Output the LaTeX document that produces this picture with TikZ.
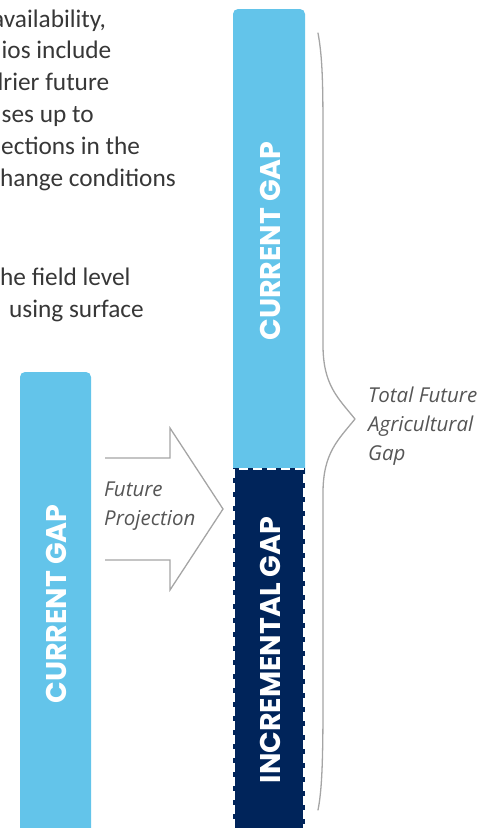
\documentclass[tikz,border=0pt]{standalone}
\usepackage{fontspec}
\setmainfont{Carlito}
\newfontfamily\barfont{Poppins}
\newfontfamily\notefont{Open Sans}
\definecolor{gapblue}{RGB}{99,196,234}
\definecolor{gapnavy}{RGB}{0,36,90}
\definecolor{linegray}{RGB}{165,165,165}
\definecolor{textgray}{RGB}{55,55,55}

\begin{document}
\begin{tikzpicture}[x=1pt,y=-1pt,line join=round,line cap=round,
  every node/.style={inner sep=0pt},
  bar/.style={fill=gapblue,rounded corners=5pt},
  barlabel/.style={text=white,rotate=90,
    font=\barfont\bfseries\fontsize{28.5}{28.5}\selectfont},
  note/.style={anchor=north west,align=left,text=textgray!85,
    font=\notefont\itshape\fontsize{20.5}{29}\selectfont},
  bodyline/.style={anchor=base west,text=textgray,
    font=\fontsize{25.3}{32}\selectfont}]
  \useasboundingbox (0,0) rectangle (493,828);
  \clip (0,0) rectangle (493,828);
  % running text of the page, cut off at the left margin
  \node[bodyline] (t1) at (-8,27) {availability,};
  \node[bodyline] (t2) at (1.5,58.8) {ios include};
  \node[bodyline] (t3) at (-10,90.6) {drier future};
  \node[bodyline] (t4) at (1.5,122.4) {ses up to};
  \node[bodyline] (t5) at (1,154.2) {ections in the};
  \node[bodyline] (t6) at (0,186) {hange conditions};
  \node[bodyline] (t7) at (0,285) {he field level};
  \node[bodyline] (t8) at (9,317) {using surface};
  % today: one bar
  \fill[bar] (20,372) rectangle (91,870);
  \node[barlabel] (cur) at (56,604) {CURRENT GAP};
  % projection arrow
  \coordinate (sa) at (105,458);
  \coordinate (sb) at (170,458);
  \coordinate (ht) at (170,428);
  \coordinate (tip) at (223,509);
  \coordinate (hb) at (170,590);
  \coordinate (sc) at (170,560);
  \coordinate (sd) at (105,560);
  \draw[linegray,line width=1.3pt,line cap=butt,line join=miter]
    (sa)--(sb)--(ht)--(tip)--(hb)--(sc)--(sd);
  \node[note] (proj) at (104,482) {Future\\Projection};
  % future: current part on top of the incremental part
  \fill[bar] (233,9) rectangle (305,480);
  \fill[gapnavy] (233,468) rectangle (305,870);
  \draw[white,line width=2.4pt,line cap=butt,dash pattern=on 9pt off 5pt]
    (234,870)--(234,469)--(304,469)--(304,870);
  \node[barlabel] (curf) at (270,241) {CURRENT GAP};
  \node[barlabel] (inc) at (270,650) {INCREMENTAL GAP};
  % brace over the whole future bar
  \draw[linegray,line width=1.3pt]
    (318,33) .. controls (323,60) and (323,90) .. (323,150)
    -- (323,345) .. controls (323,385) and (338,398) .. (355,419)
    .. controls (338,440) and (323,453) .. (323,493)
    -- (323,700) .. controls (323,760) and (322,790) .. (318,810);
  \node[note] (total) at (368,387) {Total Future\\Agricultural\\Gap};
\end{tikzpicture}
\end{document}
